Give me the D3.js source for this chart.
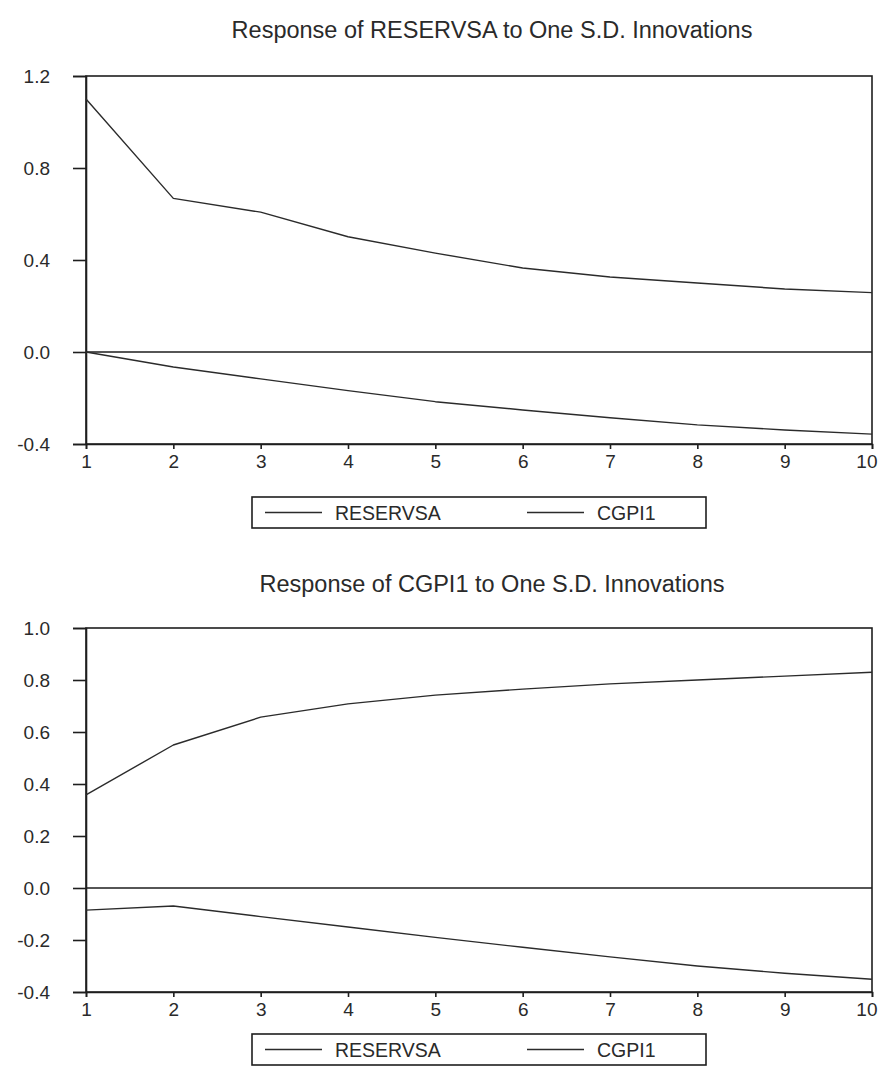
<!DOCTYPE html>
<html>
<head>
<meta charset="utf-8">
<script src="https://cdn.jsdelivr.net/npm/d3@7"></script>
<style>
  html, body { margin: 0; padding: 0; background: #fff; }
  svg { display: block; }
  text { font-family: "Liberation Sans", Arial, sans-serif; fill: #2a2a2a; }
</style>
</head>
<body>
<svg id="chart" width="878" height="1077"></svg>
<script>
// Impulse-response horizons (periods after the shock)
const horizons = [1, 2, 3, 4, 5, 6, 7, 8, 9, 10];
const seriesNames = ["RESERVSA", "CGPI1"];

// Response of RESERVSA to one S.D. innovations
const reservsaToReservsa = [1.10, 0.668, 0.608, 0.501, 0.430, 0.365, 0.326, 0.300, 0.274, 0.258];
const reservsaToCgpi1    = [0.000, -0.065, -0.117, -0.168, -0.216, -0.252, -0.286, -0.317, -0.339, -0.357];

// Response of CGPI1 to one S.D. innovations
const cgpi1ToReservsa = [-0.085, -0.069, -0.110, -0.150, -0.190, -0.228, -0.265, -0.300, -0.328, -0.351];
const cgpi1ToCgpi1    = [0.358, 0.550, 0.657, 0.708, 0.742, 0.765, 0.785, 0.800, 0.815, 0.830];

// Axis tick values
const xTicks = horizons;
const topYTicks = [-0.4, 0.0, 0.4, 0.8, 1.2];
const bottomYTicks = [-0.4, -0.2, 0.0, 0.2, 0.4, 0.6, 0.8, 1.0];

const titles = [
  "Response of RESERVSA to One S.D. Innovations",
  "Response of CGPI1 to One S.D. Innovations"
];

const svg = d3.select("#chart");
const ink = "#1e1e1e";
const fontStack = "'Liberation Sans', Arial, sans-serif";
// one decimal, plain hyphen for negatives
const fmtY = d => d3.format(".1f")(d).replace("\u2212", "-");

function drawPanel(opts) {
  const { top, bottom, left, right, yDomain, yTicks, series, title, titleY, legendTop } = opts;

  const x = d3.scaleLinear().domain([1, 10]).range([left, right]);
  const y = d3.scaleLinear().domain(yDomain).range([bottom, top]);
  const g = svg.append("g");

  // Title
  g.append("text")
    .attr("x", 492)
    .attr("y", titleY)
    .attr("text-anchor", "middle")
    .style("font-size", "23.5px")
    .text(title);

  // Plot frame
  g.append("rect")
    .attr("x", left).attr("y", top)
    .attr("width", right - left).attr("height", bottom - top)
    .attr("fill", "none").attr("stroke", ink).attr("stroke-width", 1.6);

  // Left axis
  const yAxis = d3.axisLeft(y).tickValues(yTicks).tickSize(13).tickPadding(23)
    .tickFormat(fmtY);
  const ya = g.append("g").attr("transform", `translate(${left},0)`).call(yAxis);
  ya.select(".domain").attr("stroke", ink).attr("stroke-width", 1.6);
  ya.selectAll(".tick line").attr("stroke", ink).attr("stroke-width", 1.6);
  ya.selectAll(".tick text")
    .style("font-size", "19px").attr("fill", "#2a2a2a")
    .style("font-family", fontStack);

  // Bottom axis
  const xAxis = d3.axisBottom(x).tickValues(xTicks).tickSize(5).tickPadding(6)
    .tickFormat(d3.format("d"));
  const xa = g.append("g").attr("transform", `translate(0,${bottom})`).call(xAxis);
  xa.select(".domain").attr("stroke", ink).attr("stroke-width", 1.6);
  xa.selectAll(".tick line").attr("stroke", ink).attr("stroke-width", 1.6);
  xa.selectAll(".tick text")
    .style("font-size", "19px").attr("fill", "#2a2a2a")
    .style("font-family", fontStack);
  // keep the last label inside the page edge
  xa.selectAll(".tick text")
    .filter(d => d === xTicks[xTicks.length - 1])
    .attr("text-anchor", "end")
    .attr("x", 5);

  // Zero line
  g.append("line")
    .attr("x1", left).attr("x2", right)
    .attr("y1", y(0)).attr("y2", y(0))
    .attr("stroke", ink).attr("stroke-width", 1.6);

  // Response lines
  const line = d3.line().x((d, i) => x(horizons[i])).y(d => y(d));
  series.forEach(values => {
    g.append("path")
      .datum(values)
      .attr("d", line)
      .attr("fill", "none")
      .attr("stroke", "#2b2b2b")
      .attr("stroke-width", 1.4)
      .attr("stroke-linejoin", "round");
  });

  // Legend
  const lg = g.append("g").attr("transform", `translate(252,${legendTop})`);
  lg.append("rect")
    .attr("x", 0).attr("y", 0).attr("width", 454).attr("height", 31)
    .attr("fill", "#fff").attr("stroke", ink).attr("stroke-width", 1.6);
  const legendX = [13, 275];
  seriesNames.forEach((name, i) => {
    lg.append("line")
      .attr("x1", legendX[i]).attr("x2", legendX[i] + 57)
      .attr("y1", 15.5).attr("y2", 15.5)
      .attr("stroke", "#2b2b2b").attr("stroke-width", 1.4);
    lg.append("text")
      .attr("x", legendX[i] + 70).attr("y", 22.5)
      .style("font-size", "19.5px")
      .text(name);
  });
}

drawPanel({
  top: 76, bottom: 444, left: 86, right: 872,
  yDomain: [-0.4, 1.2], yTicks: topYTicks,
  series: [reservsaToReservsa, reservsaToCgpi1],
  title: titles[0], titleY: 38, legendTop: 497
});

drawPanel({
  top: 628, bottom: 992, left: 86, right: 872,
  yDomain: [-0.4, 1.0], yTicks: bottomYTicks,
  series: [cgpi1ToReservsa, cgpi1ToCgpi1],
  title: titles[1], titleY: 592, legendTop: 1034
});
</script>
</body>
</html>
